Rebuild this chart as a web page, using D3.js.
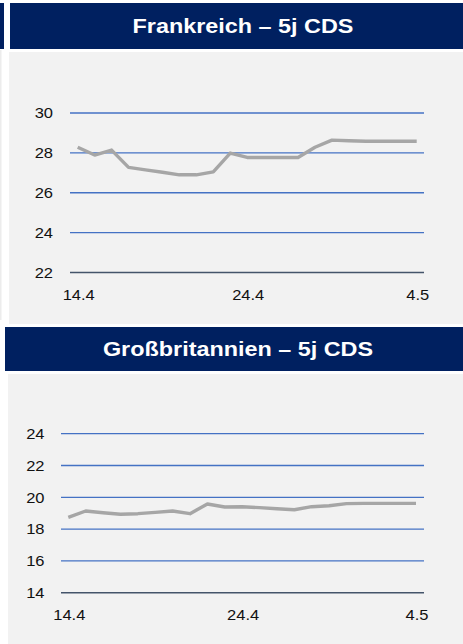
<!DOCTYPE html>
<html><head><meta charset="utf-8">
<script src="https://cdn.jsdelivr.net/npm/d3@7"></script>
<style>
html,body{margin:0;padding:0;background:#fff;}
svg{display:block;}
text{font-family:"Liberation Sans",Arial,sans-serif;}
</style></head>
<body>
<script>
const dates = ["14.4","15.4","16.4","17.4","18.4","19.4","20.4","21.4","22.4","23.4","24.4","25.4","26.4","27.4","28.4","29.4","30.4","1.5","2.5","3.5","4.5"];
const tickLabels = ["14.4","24.4","4.5"];
const franceTitle = "Frankreich – 5j CDS";
const franceValues = [28.28,27.89,28.14,27.27,27.15,27.03,26.90,26.90,27.05,27.99,27.77,27.77,27.77,27.77,28.28,28.64,28.61,28.58,28.58,28.58,28.58];
const franceTicks = [22,24,26,28,30];
const ukTitle = "Großbritannien – 5j CDS";
const ukValues = [18.74,19.14,19.03,18.93,18.97,19.05,19.14,18.97,19.58,19.39,19.41,19.35,19.28,19.22,19.41,19.47,19.60,19.62,19.62,19.62,19.62];
const ukTicks = [14,16,18,20,22,24];

const W = 463, H = 644;
const navy = "#002060", panelBg = "#f2f2f2", grid = "#4472c4", axisC = "#44546a", lineC = "#a6a6a6";
const svg = d3.select("body").append("svg").attr("width", W).attr("height", H);

svg.append("rect").attr("x",0).attr("y",3).attr("width",4).attr("height",46).attr("fill",navy);
svg.append("rect").attr("x",0).attr("y",50).attr("width",1.5).attr("height",270).attr("fill","#ececec");

function panel(cfg){
  svg.append("rect").attr("x",cfg.hx).attr("y",cfg.hy).attr("width",W-cfg.hx).attr("height",cfg.hh).attr("fill",navy);
  svg.append("text").attr("transform",`translate(${cfg.tx},${cfg.hy+cfg.hh/2+7}) scale(1.2,1)`)
    .attr("text-anchor","middle").attr("fill","#fff").attr("font-weight","bold").attr("font-size","19.5px").text(cfg.title);
  svg.append("rect").attr("x",cfg.px).attr("y",cfg.py).attr("width",W-cfg.px).attr("height",cfg.ph).attr("fill",panelBg);

  const x = d3.scalePoint().domain(dates).range(cfg.xr);
  const y = d3.scaleLinear().domain(d3.extent(cfg.ticks)).range(cfg.yr);
  const g = svg.append("g");
  cfg.ticks.forEach((t,i)=>{
    g.append("line").attr("x1",cfg.gx[0]).attr("x2",cfg.gx[1]).attr("y1",y(t)).attr("y2",y(t))
      .attr("stroke", i===0 ? axisC : grid).attr("stroke-width", i===0 ? 1.6 : 1.3);
    g.append("text").attr("transform",`translate(${cfg.ylx},${y(t)+5.3}) scale(1.1,1)`)
      .attr("text-anchor","end").attr("font-size","15px").attr("fill","#111").text(t);
  });
  tickLabels.forEach(l=>{
    g.append("text").attr("transform",`translate(${x(l)+1},${cfg.xly}) scale(1.1,1)`)
      .attr("text-anchor","middle").attr("font-size","15px").attr("fill","#111").text(l);
  });
  const line = d3.line().x((d,i)=>x(dates[i])).y(d=>y(d));
  g.append("path").datum(cfg.values).attr("d",line).attr("fill","none")
    .attr("stroke",lineC).attr("stroke-width",3.4).attr("stroke-linejoin","round");
}

panel({hx:10,hy:3,hh:46,tx:243,title:franceTitle,px:9,py:52,ph:272,
  xr:[77.7,416.7],yr:[272.5,113],gx:[70,424],ylx:53,xly:299.5,ticks:franceTicks,values:franceValues});
panel({hx:5,hy:327,hh:44,tx:238,title:ukTitle,px:8,py:374,ph:270,
  xr:[68.3,416],yr:[592.7,433.7],gx:[61,424],ylx:44.5,xly:620,ticks:ukTicks,values:ukValues});
</script>
</body></html>
